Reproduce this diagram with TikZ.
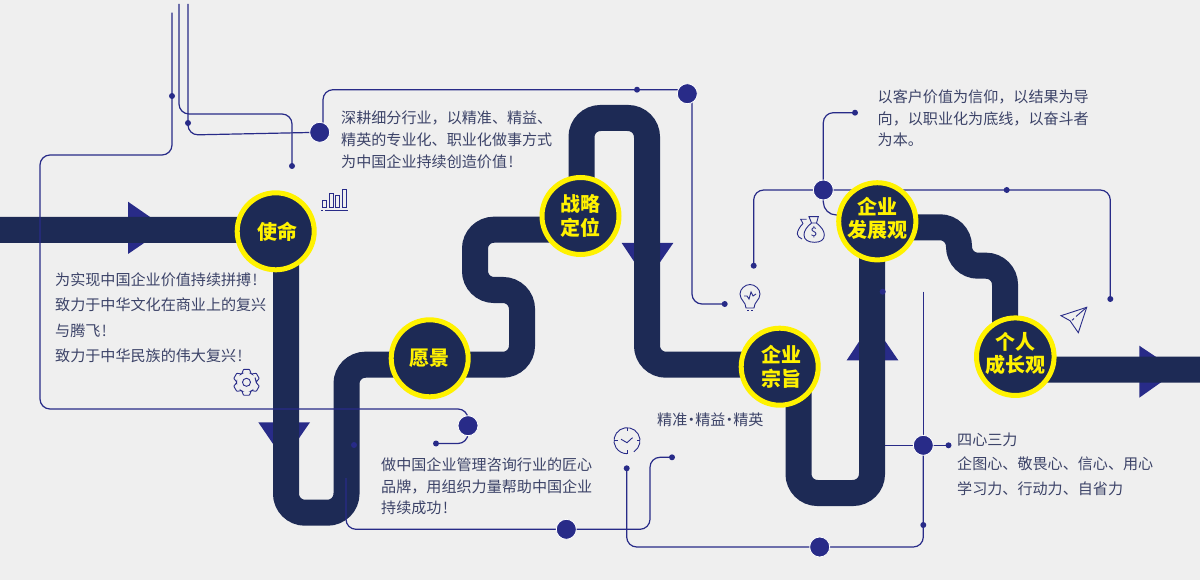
\documentclass[tikz,border=0pt]{standalone}
\usepackage{fontspec}
\setmainfont{Noto Sans CJK SC}
\definecolor{bgc}{HTML}{EFEFEF}
\definecolor{pipec}{HTML}{1D2A55}
\definecolor{markc}{HTML}{282B88}
\definecolor{ringc}{HTML}{FFF200}
\definecolor{textc}{HTML}{3C4368}
\pgfdeclarelayer{bglayer}
\pgfdeclarelayer{pipelayer}
\pgfdeclarelayer{linelayer}
\pgfsetlayers{bglayer,pipelayer,linelayer,main}
\tikzset{
  pipeline/.style={draw=pipec,line width=26pt,rounded corners=19pt},
  arrowmark/.style={fill=markc},
  wire/.style={draw=markc,line width=1.2pt,rounded corners=10pt},
  bigdot/.style={circle,fill=markc,draw=white,line width=.8pt,minimum size=20pt,inner sep=0pt},
  smalldot/.style={circle,fill=markc,minimum size=6pt,inner sep=0pt},
  station/.style={circle,fill=pipec,draw=ringc,line width=5pt,minimum size=77pt,inner sep=0pt,
    text=ringc,font=\fontsize{20}{23.5}\selectfont\bfseries,align=center},
  label/.style={anchor=west,inner sep=0pt,text=textc,align=left},
  iconline/.style={draw=markc,line width=.9pt},
}
\newcommand{\blocktext}[1]{\fontsize{15.08}{#1}\selectfont}
\newcommand{\middot}{\hspace{-3.6pt}·\hspace{-3.6pt}}
\newcommand{\bang}{\hspace{1.5pt}!}
\newcommand{\liftup}[1]{\rule[-#1]{0pt}{#1}}
\begin{document}
\begin{tikzpicture}[x=1pt,y=-1pt]
\useasboundingbox (0,0) rectangle (1200,580);
\begin{pgfonlayer}{bglayer}
\fill[bgc] (0,0) rectangle (1200,580);
\end{pgfonlayer}

% stations
\node[station] (mission) at (275.7,231.3) {\hspace*{3pt}使命};
\node[station] (vision) at (429.7,358.3) {愿景};
\node[station] (strategy) at (580.5,216) {战略\\定位};
\node[station] (purpose) at (779.7,366.7) {\hspace*{3pt}企业\\\hspace*{3pt}宗旨};
\node[station] (develop) at (877.3,221.3) {企业\\发展观\liftup{8pt}};
\node[station] (growth) at (1015.3,356.7) {个人\\成长观\liftup{9pt}};

% big dots
\node[bigdot] (bA) at (468,425.7) {};
\node[bigdot] (bC) at (319.7,132.3) {};
\node[bigdot] (bH) at (687.3,93.7) {};
\node[bigdot] (bD) at (823.3,190) {};
\node[bigdot] (bE) at (923.3,445.3) {};
\node[bigdot] (bF) at (566.3,529.3) {};
\node[bigdot] (bG) at (819.7,547) {};

% small dots
\node[smalldot] (sA1) at (172,96) {};
\node[smalldot] (sA2) at (436,443.5) {};
\node[smalldot] (sB) at (292,166) {};
\node[smalldot] (sC) at (188,123) {};
\node[smalldot] (sH1) at (637,89.7) {};
\node[smalldot] (sH2) at (724.7,304) {};
\node[smalldot] (sD1) at (855,112.7) {};
\node[smalldot] (sD2) at (753.7,265.7) {};
\node[smalldot] (sD3) at (1006.7,190) {};
\node[smalldot] (sD4) at (1110.3,299) {};
\node[smalldot] (sE1) at (948.5,445.3) {};
\node[smalldot] (sE2) at (923.3,525) {};
\node[smalldot] (sF1) at (672,457.3) {};
\node[smalldot] (sG) at (626.7,468.3) {};
\node[smalldot] (sP1) at (354,445) {};
\node[smalldot] (sP2) at (882.7,291.7) {};

% free ends
\coordinate (eA) at (172,12.7);
\coordinate (eB) at (179,4);
\coordinate (eC) at (188,4);
\coordinate (eE1) at (923.3,291.7);
\coordinate (eE2) at (885,445.3);
\coordinate (eF) at (346,478);
\coordinate (eD) at (838,215);

% pipeline and arrows
\begin{pgfonlayer}{pipelayer}
\fill[arrowmark] (128,201.7) -- (166,228) -- (128,254) -- cycle;
\fill[arrowmark] (258.3,422.3) -- (310,422.3) -- (284,460) -- cycle;
\fill[arrowmark] (621.7,243) -- (673.3,243) -- (647,281) -- cycle;
\fill[arrowmark] (846.7,360.3) -- (898.3,360.3) -- (872,322) -- cycle;
\fill[arrowmark] (1139.3,345.7) -- (1177,371) -- (1139.3,397.7) -- cycle;
\draw[pipeline] (0,230) -- (286,230) -- (286,512.7) -- (346.5,512.7) -- (346.5,364.7)
  -- (522,364.7) -- (522,290) -- (475,290) -- (475,229.7) -- (581.5,229.7)
  -- (581.5,118) -- (647,118) -- (647,364.7) -- (798.5,364.7) -- (798.5,493)
  -- (872,493) -- (872,227.3) -- (959,227.3) -- (959,265.7) -- (1005,265.7)
  -- (1005,369.7) -- (1200,369.7);
\end{pgfonlayer}

% wires
\begin{pgfonlayer}{linelayer}
\draw[wire] (eA) -- (172,155) -- (40,155) -- (40,409) -- (468,409) -- (bA.center);
\draw[wire] (bA.center) -- (468,443.5) -- (sA2.center);
\draw[wire] (eB) -- (179,114) -- (292,114) -- (sB.center);
\draw[wire] (eC) -- (188,135) -- (bC.center);
\draw[wire] (bC.center) ++(3.3,0) -- (323,89.7) -- (687.3,89.7);
\draw[wire] (692,93.7) -- (692,304) -- (sH2.center);
\draw[wire] (bD.center) -- (823.3,112.7) -- (sD1.center);
\draw[wire] (bD.center) -- (753.7,190) -- (sD2.center);
\draw[wire] (bD.center) -- (1110.3,190) -- (sD4.center);
\draw[wire,rounded corners=13pt] (bD.center) -- (823.3,215) -- (eD);
\draw[wire] (eE1) -- (bE.center);
\draw[wire] (eE2) -- (sE1.center);
\draw[wire] (bE.center) -- (923.3,547) -- (bG.center);
\draw[wire] (bG.center) -- (626.7,547) -- (sG.center);
\draw[wire] (eF) -- (346,529.3) -- (bF.center);
\draw[wire] (bF.center) -- (650,529.3) -- (650,457.3) -- (sF1.center);
\end{pgfonlayer}

% texts
\node[label,font=\blocktext{25.4}] (t1) at (55,317.7) {为实现中国企业价值持续拼搏\bang\\致力于中华文化在商业上的复兴\\与腾飞\bang\\致力于中华民族的伟大复兴\bang};
\node[label,font=\blocktext{22}] (t2) at (341,139.5) {深耕细分行业，以精准、精益、\\精英的专业化、职业化做事方式\\为中国企业持续创造价值\bang};
\node[label,font=\blocktext{21.6}] (t3) at (381,486.5) {做中国企业管理咨询行业的匠心\\品牌，用组织力量帮助中国企业\\持续成功\bang};
\node[label,font=\blocktext{21.6}] (t4) at (877.5,118.3) {以客户价值为信仰，以结果为导\\向，以职业化为底线，以奋斗者\\为本。};
\node[label,font=\blocktext{18}] (t5) at (657,420) {精准\middot 精益\middot 精英};
\node[label,font=\blocktext{24.4}] (t6) at (957,464) {四心三力\\企图心、敬畏心、信心、用心\\学习力、行动力、自省力};

% icons
\begin{scope}[iconline]
% bars
\draw (321,210.7) -- (323,210.7) (325,210.7) -- (348,210.7);
\draw (322.5,200) rectangle (326,207.3);
\draw (329,193.7) rectangle (333,207.3);
\draw (335.5,195.7) rectangle (339.5,207.3);
\draw (342,189) rectangle (346,207.3);
% gear
\begin{scope}[shift={(246.5,382.3)}]
\draw[rounded corners=.6pt] (-30:9.8)
  \foreach \a in {30,90,...,330} { -- (\a-28:9.8) -- (\a-13:13.3) -- (\a+13:13.3) -- (\a+28:9.8) } -- cycle;
\draw (0,0) circle (4);
\end{scope}
% bulb
\begin{scope}[shift={(750,295)}]
\draw (-4,13) .. controls (-4,7) and (-10,5) .. (-10,-1) .. controls (-10,-6) and (-5,-10.5) .. (0,-10.5)
  .. controls (5,-10.5) and (10,-6) .. (10,-1) .. controls (10,5) and (4,7) .. (4,13) -- cycle;
\draw (-6,1) -- (-3,1) -- (-1,4) -- (1,-3) -- (3,1) -- (6,-1);
\draw (-3,15.5) -- (-.8,15.5) (.8,15.5) -- (3,15.5);
\end{scope}
% clock
\begin{scope}[shift={(627,440.7)}]
\draw (58:13) arc[start angle=58,end angle=-270,radius=13];
\draw (0,-13) -- (0,-9.5) (0,13) -- (0,9.5) (-13,0) -- (-9.5,0) (13,0) -- (9.5,0);
\draw (-6,-1.5) -- (0,2) -- (5.5,-3);
\end{scope}
% money bag
\begin{scope}[shift={(813.5,230)}]
\draw (-4.5,-13.3) -- (4.8,-13.3) -- (3,-7) -- (-2,-7) -- cycle;
\draw (-2,-7) .. controls (-7,-3) and (-9.5,1) .. (-9.5,5) .. controls (-9.5,10) and (-5,12.3) .. (1,12.3)
  .. controls (7,12.3) and (10.8,10) .. (10.8,5) .. controls (10.8,1) and (8,-3) .. (3,-7);
\draw (-6.8,-10.7) -- (-12.8,-10.7) -- (-10.5,-6.5);
\draw (-10.5,-6.5) .. controls (-14,-3) and (-16.2,1) .. (-16.2,4) .. controls (-16.2,6) and (-14,8) .. (-11.5,9);
\end{scope}
\node[text=markc,font=\fontsize{12}{12}\selectfont,inner sep=0pt] (dollar) at (814,232.5) {\$};
% plane
\draw (1086.7,307.3) -- (1061,315.7) -- (1070,320.7) -- (1078.3,332.7) -- cycle;
\draw (1086.7,307.3) -- (1076,316.5) (1074,318.5) -- (1072,320.3);
\end{scope}
\end{tikzpicture}
\end{document}
